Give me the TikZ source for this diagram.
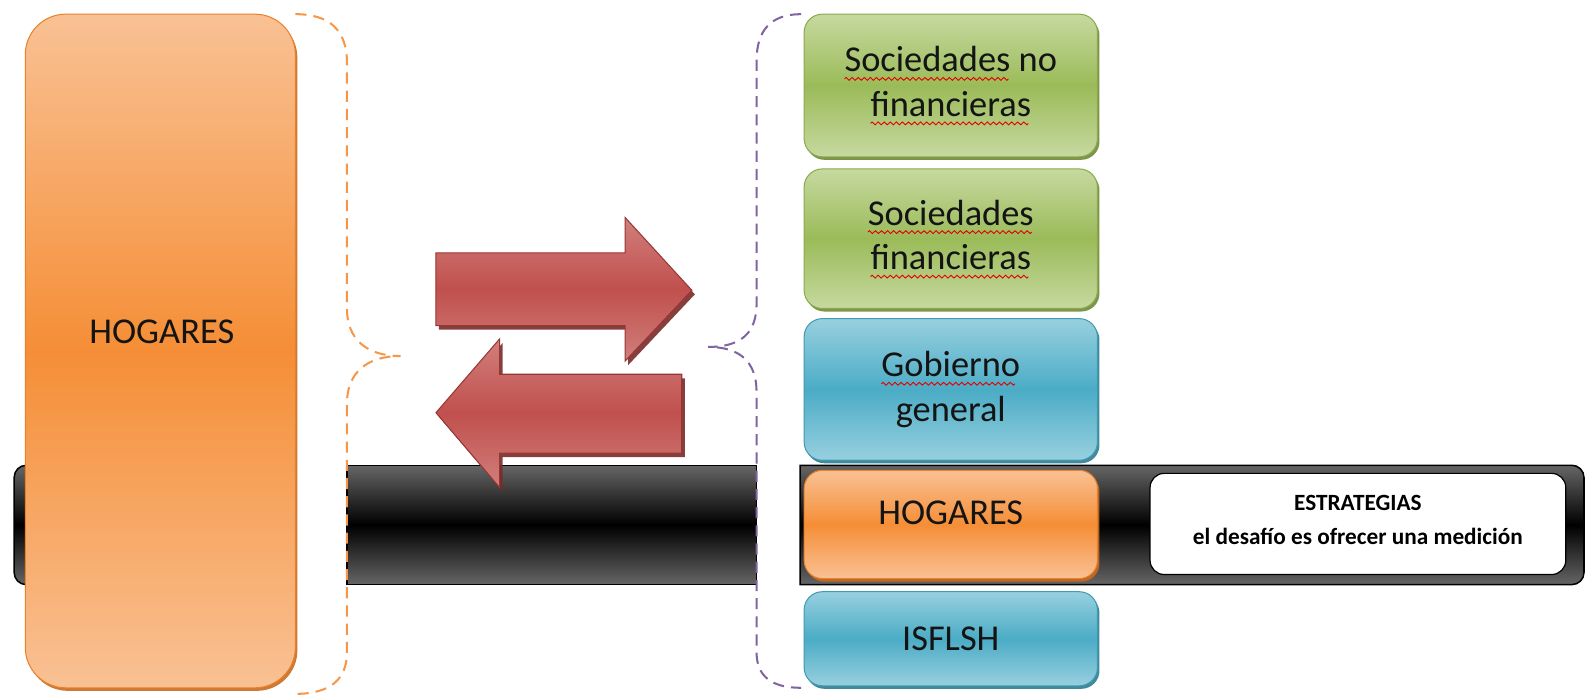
\documentclass[tikz,border=0pt]{standalone}
\usepackage{fontspec}
\setmainfont{Carlito}
\usetikzlibrary{shadows}
\definecolor{otop}{HTML}{F9C194}
\definecolor{omid}{HTML}{F58E36}
\definecolor{odark}{HTML}{E9802A}
\definecolor{oshadow}{HTML}{C96A1E}
\definecolor{gtop}{HTML}{C6D9A0}
\definecolor{gmid}{HTML}{9BBB59}
\definecolor{gdark}{HTML}{8AAA4B}
\definecolor{gshadow}{HTML}{6E8A36}
\definecolor{btop}{HTML}{98D0DF}
\definecolor{bmid}{HTML}{4BACC6}
\definecolor{bdark}{HTML}{3F9AB3}
\definecolor{bshadow}{HTML}{2E7C91}
\definecolor{rtop}{HTML}{D17F7C}
\definecolor{rmid}{HTML}{C0504D}
\definecolor{rdark}{HTML}{943634}
\definecolor{rshadow}{HTML}{7A2A28}
\definecolor{barg}{HTML}{666666}
\definecolor{bracor}{HTML}{F79646}
\definecolor{brapu}{HTML}{8064A2}
\newsavebox\wavebox
\newcommand\wavepiece{\tikz[x=1pt,y=1pt,baseline=0pt,sharp corners]{\useasboundingbox (0,-1) rectangle (6,1);
  \draw[sharp corners,red!90!black,line width=0.9pt] (0,0) sin (1.5,1.4) cos (3,0) sin (4.5,-1.4) cos (6,0);}}
\newcommand\spellwave[1]{\sbox\wavebox{#1}\rlap{\lower7pt\hbox to \wd\wavebox{\leaders\hbox{\wavepiece}\hfil}}#1}
\tikzset{
  bar/.style={top color=barg, bottom color=barg, middle color=black, draw=black, line width=1.5},
  boxbase/.style={rectangle, rounded corners=18, minimum width=290, inner sep=0, align=center, line width=1,
    font=\fontsize{36}{44}\selectfont, text=black!92},
  greenbox/.style={boxbase, top color=gtop, bottom color=gtop, middle color=gmid, draw=gdark,
    drop shadow={shadow xshift=2pt, shadow yshift=-3pt, fill=gshadow, opacity=0.9}},
  bluebox/.style={boxbase, top color=btop, bottom color=btop, middle color=bmid, draw=bdark,
    drop shadow={shadow xshift=2pt, shadow yshift=-3pt, fill=bshadow, opacity=0.9}},
  orangebox/.style={boxbase, top color=otop, bottom color=otop, middle color=omid, draw=odark,
    drop shadow={shadow xshift=2pt, shadow yshift=-3pt, fill=oshadow, opacity=0.9}},
  label36/.style={font=\fontsize{36}{44}\selectfont, text=black!92, inner sep=0},
  redarrow/.style={top color=rtop, bottom color=rtop, middle color=rmid, draw=rdark, line width=1,
    drop shadow={shadow xshift=3pt, shadow yshift=-4pt, fill=rshadow, opacity=0.9}},
  bracedash/.style={line width=2, dash pattern=on 11pt off 7pt},
  whitebox/.style={rectangle, rounded corners=14, fill=white, draw=black, line width=1.2,
    minimum width=411, minimum height=100},
  whitetext/.style={align=center, inner sep=0, font=\bfseries\fontsize{23}{34}\selectfont}
}
\begin{document}
\begin{tikzpicture}[x=1pt,y=-1pt]
\useasboundingbox (0,0) rectangle (1568,687);
% black bar segments
\path[bar, rounded corners=12] (120,460) -- (14,460) -- (14,578) -- (120,578) -- cycle;
\path[bar] (343,460) rectangle (748,578);
\path[bar] (791,460) {[rounded corners=12] -- (1566,460) -- (1566,578)} -- (791,578) -- cycle;
% big left box
\node[orangebox, rounded corners=40, minimum width=267, minimum height=666] (hogL) at (158.5,347) {};
\node[label36] (hogLtext) at (160,328) {HOGARES};
% braces
\draw[bracedash, bracor] (292,14) .. controls (326,14) and (343,30) .. (343,62) -- (343,305)
  .. controls (343,335) and (362,352) .. (396,352)
  .. controls (362,352) and (343,369) .. (343,399) -- (343,645)
  .. controls (343,672) and (326,686) .. (292,686);
\draw[bracedash, brapu] (792,14) .. controls (762,14) and (748,30) .. (748,60) -- (748,300)
  .. controls (748,330) and (732,343) .. (700,343)
  .. controls (732,343) and (748,358) .. (748,388) -- (748,645)
  .. controls (748,668) and (762,680) .. (792,680);
% arrows
\path[redarrow] (431,250) -- (618,250) -- (618,215) -- (684,287) -- (618,357) -- (618,322) -- (431,322) -- cycle;
\path[redarrow] (674,370) -- (494,370) -- (494,335) -- (431,408) -- (494,482) -- (494,448) -- (674,448) -- cycle;
% right column
\node[greenbox, minimum height=141] (snf) at (940,84.5) {\spellwave{Sociedades} no\\\spellwave{financieras}};
\node[greenbox, minimum height=138] (sf) at (940,236) {\spellwave{Sociedades}\\\spellwave{financieras}};
\node[bluebox, minimum height=140] (gg) at (940,385) {\spellwave{Gobierno}\\general};
\node[orangebox, minimum height=107] (hogR) at (940,518.5) {};
\node[label36] (hogRtext) at (940,507) {HOGARES};
\node[bluebox, minimum height=93] (isf) at (940,631.5) {ISFLSH};
\node[whitebox] (estr) at (1342.5,518) {};
\node[whitetext] (estrtext) at (1342.5,514) {ESTRATEGIAS\\el desafío es ofrecer una medición};
\end{tikzpicture}
\end{document}
